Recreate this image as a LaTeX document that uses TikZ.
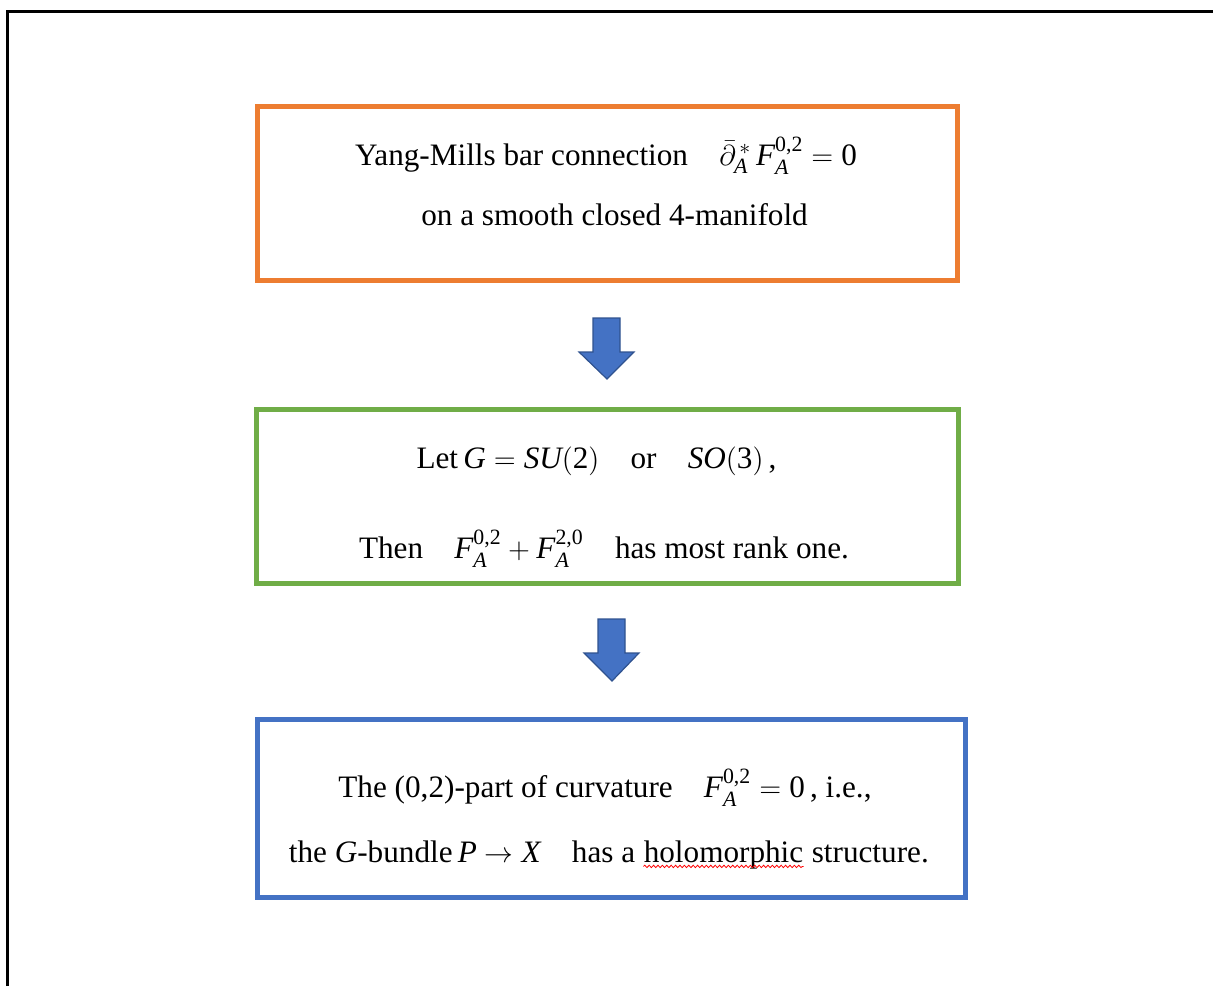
\documentclass[tikz,border=0pt]{standalone}
\usepackage{amsmath}
\usepackage{fontspec}
\setmainfont{Liberation Serif}
\usetikzlibrary{decorations.pathmorphing}
\definecolor{orangeB}{HTML}{ED7D31}
\definecolor{greenB}{HTML}{70AD47}
\definecolor{blueB}{HTML}{4472C4}
\definecolor{blueD}{HTML}{2F528F}
\newcommand{\mi}[1]{\textit{#1}}
\tikzset{
  box/.style={draw, line width=2.5pt, inner sep=0pt, fill=white},
  txt/.style={anchor=base, inner sep=0pt, font=\fontsize{15.6}{19}\selectfont},
  downarrow/.style={fill=blueB, draw=blueD, line width=0.6pt, line join=miter},
  spellwave/.style={draw=red, line width=0.4pt, decorate, decoration={snake, amplitude=0.6pt, segment length=2.2pt}},
}
\begin{document}
\begin{tikzpicture}[x=0.5pt, y=-0.5pt]
\useasboundingbox (0,0) rectangle (1213,986);
\draw[line width=1.5pt] (7,986) -- (7,11) -- (1213,11);

\node[box, draw=orangeB, minimum width=350pt, minimum height=87pt] (b1) at (607.5,193.5) {};
\node[box, draw=greenB, minimum width=351pt, minimum height=87pt] (b2) at (607.5,496.5) {};
\node[box, draw=blueB, minimum width=354pt, minimum height=89pt] (b3) at (611.5,808.5) {};

\node[txt] (t1) at (606,165) {Yang-Mills bar connection\quad $\bar{\partial}^{\,*}_{\mi{A}}\,\mi{F}^{\text{0,2}}_{\mi{A}}=\text{0}$};
\node[txt] (t2) at (614.5,225) {on a smooth closed 4-manifold};

\node[txt] (t3) at (596.5,468) {Let\,$\mi{G}=\mi{SU}(\text{2})$\quad or\quad $\mi{SO}(\text{3})$\,,};
\node[txt] (t4) at (604,558) {Then\quad $\mi{F}^{\text{0,2}}_{\mi{A}}+\mi{F}^{\text{2,0}}_{\mi{A}}$\quad has most rank one.};

\node[txt] (t5) at (605,797) {The (0,2)-part of curvature\quad $\mi{F}^{\text{0,2}}_{\mi{A}}=\text{0}$\,, i.e.,};
\node[txt] (t6h) at (723.5,862) {holomorphic};
\node[txt, anchor=base east, xshift=-3.9pt] (t6a) at (t6h.base west) {the \mi{G}-bundle\,$\mi{P}\rightarrow\mi{X}$\quad has a};
\node[txt, anchor=base west, xshift=3.9pt] (t6b) at (t6h.base east) {structure.};
\draw[spellwave] ([yshift=-2.2pt]t6h.base west) -- ([yshift=-2.2pt]t6h.base east);

% arrows between boxes
\draw[downarrow] (593,318) -- (620,318) -- (620,352) -- (634,352) -- (607,379) -- (579,352) -- (593,352) -- cycle;
\draw[downarrow] (598,619) -- (625,619) -- (625,653) -- (639,653) -- (612,681) -- (584,653) -- (598,653) -- cycle;
\end{tikzpicture}
\end{document}
